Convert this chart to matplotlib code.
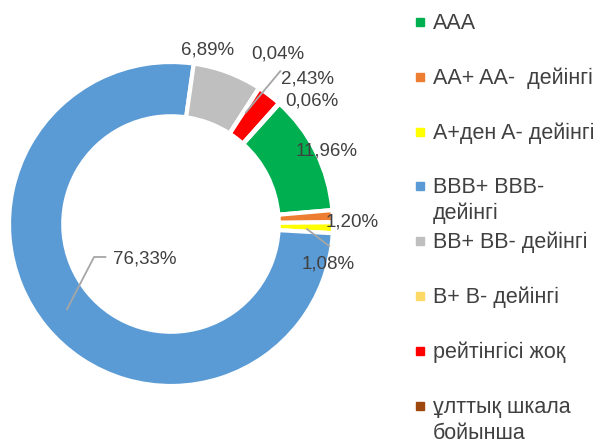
import numpy as np
import matplotlib
matplotlib.use("Agg")
import matplotlib.pyplot as plt
from matplotlib.patches import Rectangle

plt.rcParams['font.family'] = ['Liberation Sans', 'DejaVu Sans']

categories = ["AAA", "AA+ AA-  дейінгі", "A+ден A- дейінгі", "BBB+ BBB-\nдейінгі",
              "BB+ BB- дейінгі", "B+ B- дейінгі", "рейтінгісі жоқ", "ұлттық шкала\nбойынша"]
shares = [11.96, 1.20, 1.08, 76.33, 6.89, 0.04, 2.43, 0.06]
colors = ["#00B050", "#ED7D31", "#FFFF00", "#5B9BD5", "#BFBFBF", "#FFD966", "#FF0000", "#9E480E"]

text_col = "#404040"
line_col = "#A6A6A6"
fs = 13.5
fs_leg = 15.5

W, H = 600, 445
fig = plt.figure(figsize=(W / 100, H / 100), dpi=100)
ax = fig.add_axes([0, 0, 1, 1])

R = 162.0
cx, cy = 171, 224  # pixel centre of the ring
wedges, _ = ax.pie(shares, colors=colors, radius=1, startangle=48, counterclock=False,
                   wedgeprops=dict(width=0.335, edgecolor="white", linewidth=3))
ax.set_xlim(-cx / R, (W - cx) / R)
ax.set_ylim(-(H - cy) / R, cy / R)
ax.set_aspect("equal")
ax.axis("off")

# label placement: (radius, angle shift from wedge middle)
label_pos = [(1.06, -1.4), (1.12, -2.0), (1.0, -13.0), (0.27, 13.0),
             (1.10, 8.5), (1.24, 0.7), (1.23, -6.0), (1.155, -7.0)]


def polar(r, a):
    return r * np.cos(np.radians(a)), r * np.sin(np.radians(a))


mids = []
for w, v, (r, da) in zip(wedges, shares, label_pos):
    mid = (w.theta1 + w.theta2) / 2
    mids.append(mid)
    x, y = polar(r, mid + da)
    ax.text(x, y, ("%.2f%%" % v).replace(".", ","), ha="center", va="center",
            fontsize=fs, color=text_col)

# leader lines
x0, y0 = polar(1.16, mids[5] - 2.6)
x1, y1 = polar(0.83, mids[5] - 0.9)
ax.plot([x0, x1], [y0, y1], color=line_col, lw=1.3)

x0, y0 = polar(0.985, mids[2] - 6.6)
x1, y1 = polar(0.84, mids[2] - 0.8)
ax.plot([x0, x1], [y0, y1], color=line_col, lw=1.3)

lx, ly = polar(0.27, mids[3] + 13.0)
xm, ym = polar(0.83, mids[3])
ax.plot([lx - 0.24, lx - 0.31, xm], [ly + 0.01, ly + 0.01, ym], color=line_col, lw=1.3)

# legend, one row per category, fixed row pitch
for i, (lab, c) in enumerate(zip(categories, colors)):
    yp = 22 + i * 54.8
    fig.patches.append(Rectangle((416 / W, 1 - (yp + 4) / H), 8 / W, 8 / H,
                                 transform=fig.transFigure, color=c))
    for j, part in enumerate(lab.split("\n")):
        fig.text(433 / W, 1 - (yp + 7 + j * 26) / H, part, ha="left", va="baseline",
                 fontsize=fs_leg, color=text_col)

fig.savefig("out.png", dpi=100)
